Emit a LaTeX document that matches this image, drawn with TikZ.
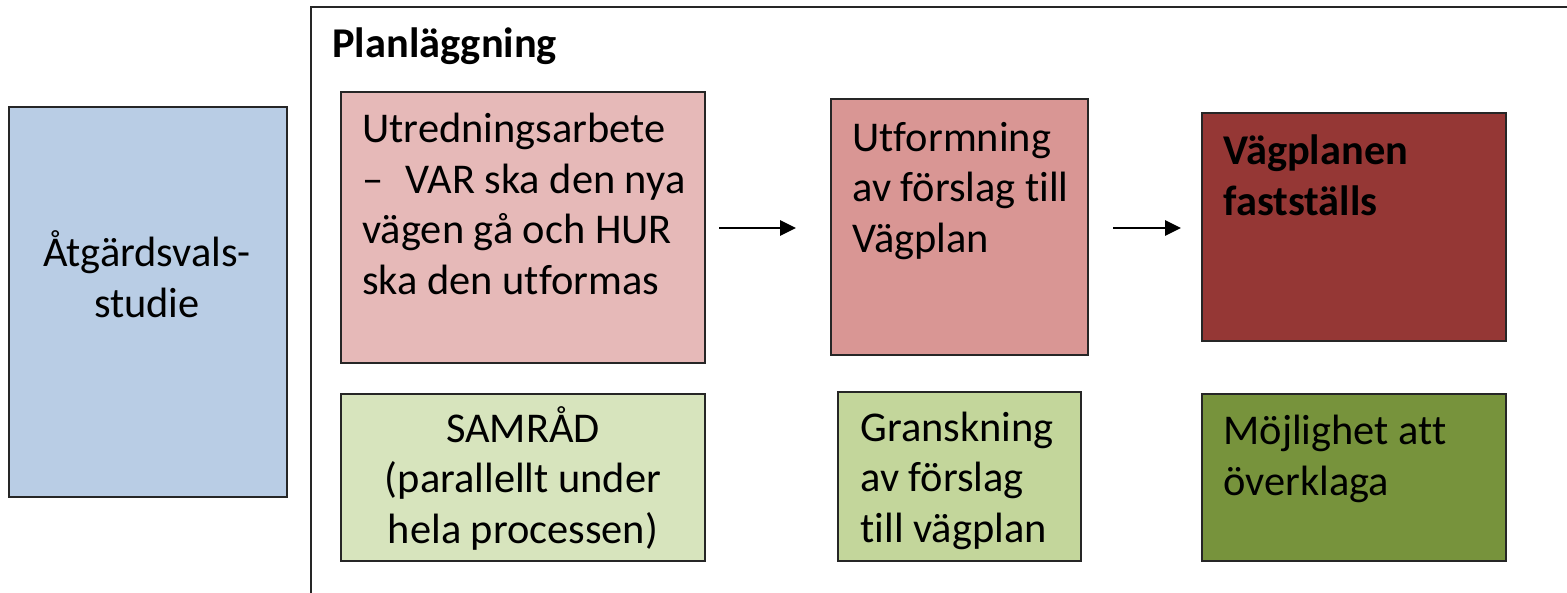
\documentclass[tikz,border=0pt]{standalone}
\usepackage{fontspec}
\setmainfont[Ligatures={NoCommon}]{Carlito}
\usetikzlibrary{arrows.meta}
\definecolor{cblue}{HTML}{B9CDE5}
\definecolor{cpinkA}{HTML}{E6B9B8}
\definecolor{cpinkB}{HTML}{D99694}
\definecolor{cred}{HTML}{953735}
\definecolor{cgreenA}{HTML}{D7E4BD}
\definecolor{cgreenB}{HTML}{C3D69B}
\definecolor{cgreenC}{HTML}{77933C}
\begin{document}
\begin{tikzpicture}[x=0.5pt,y=-0.5pt,
  box/.style={draw=black!85,line width=0.9pt},
  txt/.style={inner sep=0pt,align=left,anchor=base west,font=\fontsize{21.2}{25.2}\selectfont},
  ctxt/.style={inner sep=0pt,align=center,anchor=base,font=\fontsize{21.2}{25.2}\selectfont},
  flow/.style={line width=1.3pt,-{Triangle[length=8pt,width=7.5pt]}}]
\useasboundingbox (0,0) rectangle (1567,593);
% outer frame (only top and left edges visible)
\draw[line width=0.9pt,black!85] (311,593) -- (311,7) -- (1570,7);
\node[txt,font=\fontsize{21.2}{25.2}\selectfont\bfseries] (title) at (332,58) {Planläggning};
% left study box
\path[box,fill=cblue] (9,107) rectangle (287,497);
\node[ctxt] (avs) at (147,317) {Åtgärdsvals-\\studie};
% top row
\path[box,fill=cpinkA] (341,92) rectangle (705,363);
\node[txt] (utr) at (362,294) {Utredningsarbete\\–\hspace{11pt}VAR ska den nya\\vägen gå och HUR\\ska den utformas};
\path[box,fill=cpinkB] (831,99) rectangle (1088,355);
\node[txt] (utf) at (852,252) {Utformning\\av förslag till\\Vägplan};
\path[box,fill=cred] (1202,113) rectangle (1506,341);
\node[txt,font=\fontsize{21.2}{25.2}\selectfont\bfseries] (fast) at (1223,215) {Vägplanen\\fastställs};
% bottom row
\path[box,fill=cgreenA] (341,394) rectangle (705,561);
\node[ctxt] (sam) at (523,543) {SAMRÅD\\(parallellt under\\hela processen)};
\path[box,fill=cgreenB] (838,392) rectangle (1081,561);
\node[txt] (gran) at (860,542) {Granskning\\av förslag\\till vägplan};
\path[box,fill=cgreenC] (1202,394) rectangle (1506,561);
\node[txt] (mojl) at (1223,495) {Möjlighet att\\överklaga};
% arrows
\coordinate (a1s) at (719,228);
\coordinate (a1e) at (796,228);
\coordinate (a2s) at (1113,228);
\coordinate (a2e) at (1181,228);
\draw[flow] (a1s) -- (a1e);
\draw[flow] (a2s) -- (a2e);
\end{tikzpicture}
\end{document}
